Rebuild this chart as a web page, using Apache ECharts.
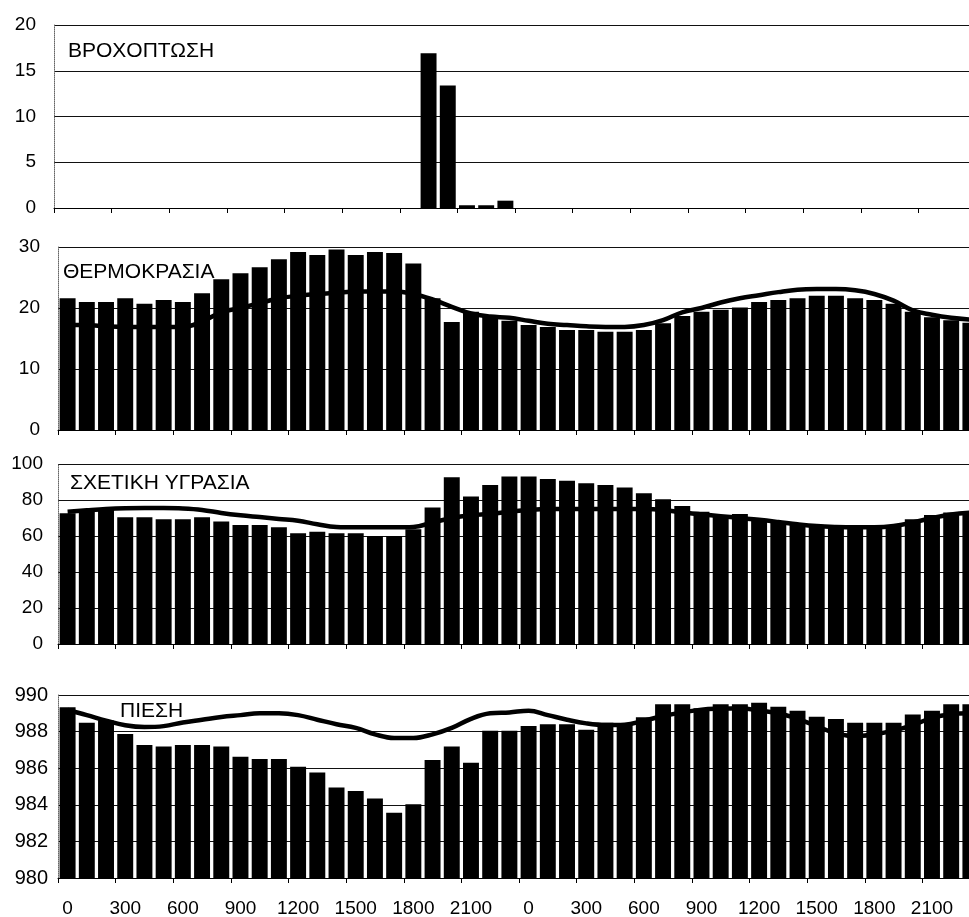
<!DOCTYPE html>
<html>
<head>
<meta charset="UTF-8">
<title>Meteo</title>
<style>
    html, body { margin: 0; padding: 0; background: #fff; }
    #chartArea { width: 969px; height: 917px; }
</style>
</head>
<body>
<div id="chartArea"></div>
<script src="https://cdn.jsdelivr.net/npm/echarts@6/dist/echarts.min.js"></script>
<script>
// hours, two days
var hours = ['0','100','200','300','400','500','600','700','800','900','1000','1100',
             '1200','1300','1400','1500','1600','1700','1800','1900','2000','2100','2200','2300'];
var categories = hours.concat(hours);

var rain = [0,0,0,0,0,0,0,0,0,0,0,0,0,0,0,0,0,0,0,16.9,13.4,0.3,0.3,0.8,
            0,0,0,0,0,0,0,0,0,0,0,0,0,0,0,0,0,0,0,0,0,0,0,0];

var tempBars = [21.6,21.0,21.0,21.6,20.7,21.3,21.0,22.4,24.7,25.7,26.7,28.0,29.2,28.7,29.6,28.7,29.2,29.0,27.3,21.6,17.7,19.4,18.6,17.9,
                17.2,16.9,16.4,16.4,16.1,16.1,16.4,17.5,18.7,19.4,19.7,20.1,21.0,21.3,21.6,22.0,22.0,21.6,21.3,20.7,19.4,18.5,18.0,17.6];
var tempLine = [17.2,17.2,17.0,16.9,16.9,16.9,16.9,17.8,19.3,20.0,20.8,21.6,22.0,22.3,22.5,22.7,22.7,22.7,22.3,21.4,20.2,19.1,18.6,18.4,
                17.9,17.4,17.2,17.0,16.9,16.9,17.2,18.0,19.3,20.0,20.9,21.6,22.1,22.6,23.0,23.1,23.1,22.9,22.3,21.2,19.6,18.9,18.4,18.1];

var rhBars = [72.6,74.1,75.4,70.4,70.4,69.3,69.3,70.4,68.0,66.1,66.1,64.8,61.5,62.4,61.5,61.5,60.0,60.0,63.7,75.9,92.6,81.9,88.3,93.0,
              93.0,91.7,90.7,89.3,88.3,87.0,83.7,80.4,76.7,73.5,71.1,72.2,68.9,67.4,66.1,65.2,65.2,64.3,64.3,66.1,69.3,71.7,73.0,72.2];
var rhLine = [73.5,74.3,75.0,75.4,75.5,75.5,75.3,74.5,72.8,71.5,70.5,69.5,68.5,66.5,65.0,64.8,64.8,64.8,65.0,67.5,70.0,71.5,72.3,73.5,
              74.5,75.0,75.0,75.0,75.0,75.0,75.0,74.5,73.0,72.0,71.0,70.0,69.0,67.8,66.5,65.5,65.0,64.8,64.8,65.5,67.5,70.0,72.0,73.0];

var pressBars = [989.33,988.49,988.6,987.87,987.27,987.18,987.27,987.27,987.18,986.63,986.5,986.5,986.08,985.76,984.95,984.75,984.35,983.57,984.03,986.45,987.18,986.3,988.05,988.05,
                 988.3,988.4,988.4,988.1,988.49,988.36,988.78,989.49,989.49,989.27,989.49,989.49,989.58,989.36,989.14,988.81,988.69,988.49,988.49,988.49,988.94,989.14,989.49,989.49];
var pressLine = [989.18,988.9,988.6,988.35,988.25,988.3,988.5,988.65,988.8,988.9,989.0,989.0,988.9,988.65,988.4,988.2,987.85,987.65,987.65,987.85,988.2,988.7,989.0,989.05,
                 989.14,988.9,988.65,988.45,988.36,988.38,988.6,988.85,989.05,989.2,989.25,989.27,989.15,989.0,988.7,988.3,987.9,987.75,987.85,988.05,988.35,988.75,988.95,989.0];

var titles = ['ΒΡΟΧΟΠΤΩΣΗ', 'ΘΕΡΜΟΚΡΑΣΙΑ', 'ΣΧΕΤΙΚΗ ΥΓΡΑΣΙΑ', 'ΠΙΕΣΗ'];

var FONT = '"Liberation Sans", Arial, sans-serif';

var myChart = echarts.init(document.getElementById('chartArea'));

function xAxisFor(idx, showLabels) {
    return {
        type: 'category',
        gridIndex: idx,
        data: categories,
        boundaryGap: true,
        axisLine: { lineStyle: { color: '#000', width: 1 } },
        axisTick: { show: true, interval: 2, length: 5, lineStyle: { color: '#000' } },
        axisLabel: {
            show: showLabels,
            interval: 2,
            margin: 21,
            color: '#000',
            fontSize: 19,
            fontFamily: FONT
        },
        splitLine: { show: false }
    };
}

function yAxisFor(idx, min, max, interval, margin, fs) {
    return {
        type: 'value',
        gridIndex: idx,
        min: min,
        max: max,
        interval: interval,
        axisLine: { show: true, lineStyle: { color: '#666', type: 'dotted' } },
        axisTick: { show: false },
        axisLabel: { color: '#000', fontSize: fs, fontFamily: FONT, margin: margin },
        splitLine: { show: true, lineStyle: { color: '#111', width: 1 } }
    };
}

function bars(idx, data) {
    return {
        type: 'bar',
        xAxisIndex: idx,
        yAxisIndex: idx,
        data: data,
        barCategoryGap: '17%',
        itemStyle: { color: '#000' },
        silent: true
    };
}

function curve(idx, data) {
    return {
        type: 'line',
        xAxisIndex: idx,
        yAxisIndex: idx,
        data: data,
        smooth: 0.4,
        symbol: 'none',
        lineStyle: { color: '#000', width: 4.5 },
        z: 5,
        silent: true
    };
}

function label(text, x, y) {
    return {
        type: 'text',
        x: x,
        y: y,
        z: 20,
        style: {
            text: text,
            font: '21px ' + FONT,
            fill: '#000',
            textAlign: 'left',
            textVerticalAlign: 'middle',
            align: 'left',
            verticalAlign: 'middle'
        }
    };
}

// the last column runs past the right edge of the picture, as in the scan
function panel(left, top, height) {
    return { left: left, width: 922, top: top, height: height, outerBoundsMode: 'none', containLabel: false };
}

myChart.setOption({
    animation: false,
    backgroundColor: '#fff',
    grid: [
        panel(54, 25, 183),
        panel(58, 247, 183),
        panel(58, 464, 180),
        panel(58, 695, 183)
    ],
    xAxis: [
        xAxisFor(0, false),
        xAxisFor(1, false),
        xAxisFor(2, false),
        xAxisFor(3, true)
    ],
    yAxis: [
        yAxisFor(0, 0, 20, 5, 18, 19),
        yAxisFor(1, 0, 30, 10, 18, 19),
        yAxisFor(2, 0, 100, 20, 15, 19),
        yAxisFor(3, 980, 990, 2, 10, 20)
    ],
    graphic: [
        label(titles[0], 68, 51),
        label(titles[1], 63, 272),
        label(titles[2], 70, 483),
        label(titles[3], 120, 711)
    ],
    series: [
        bars(0, rain),
        bars(1, tempBars),
        curve(1, tempLine),
        bars(2, rhBars),
        curve(2, rhLine),
        bars(3, pressBars),
        curve(3, pressLine)
    ]
});
</script>
</body>
</html>
